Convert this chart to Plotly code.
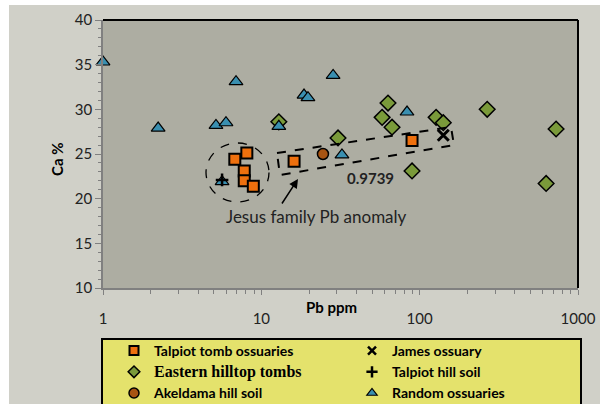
import plotly.graph_objects as go

# ---- data ----
talpiot_pb = [6.8, 8.1, 7.8, 7.8, 8.9, 16.1, 89.5]
talpiot_ca = [24.4, 25.1, 23.1, 22.0, 21.4, 24.2, 26.5]

james_pb = [141]
james_ca = [27.1]

eastern_pb = [12.9, 30.5, 63.1, 57.9, 66.9, 127, 141, 89.5, 267, 727, 629]
eastern_ca = [28.6, 26.8, 30.7, 29.1, 28.0, 29.1, 28.5, 23.1, 30.0, 27.8, 21.7]

hillsoil_pb = [5.65]
hillsoil_ca = [22.1]

akeldama_pb = [24.5]
akeldama_ca = [25.0]

random_pb = [1.0, 2.23, 5.17, 5.98, 6.92, 12.9, 5.65, 18.6, 19.7, 28.4, 32.3, 83.2]
random_ca = [35.3, 27.9, 28.2, 28.5, 33.1, 28.1, 21.9, 31.6, 31.3, 33.8, 24.9, 29.7]

x_major = [1, 10, 100, 1000]
x_minor = [2, 3, 4, 5, 6, 7, 8, 9, 20, 30, 40, 50, 60, 70, 80, 90,
           200, 300, 400, 500, 600, 700, 800, 900]
y_major = [10, 15, 20, 25, 30, 35, 40]

# ---- layout geometry (pixels) ----
W, H = 600, 404
L, R, T, B = 103, 578, 20, 288
pw, ph = R - L, B - T


def px(x):
    return (x - L) / pw


def py(y):
    return (B - y) / ph


OUTER = "rgb(208,208,200)"
PLOT = "rgb(173,173,162)"
YELLOW = "rgb(228,226,108)"
AXIS = "rgb(128,128,128)"

ORANGE = "rgb(238,112,14)"
GREEN = "rgb(122,154,58)"
TEAL = "rgb(58,143,176)"
BROWN = "rgb(168,84,18)"

series = [
    # name, x, y, symbol, size, fill, line width, legend rank, legend size
    ("Eastern hilltop tombs", eastern_pb, eastern_ca, "diamond", 12, GREEN, 1.5, 3, 9),
    ("Random ossuaries", random_pb, random_ca, "triangle-up", 12, TEAL, 1.2, 6, 9),
    ("Talpiot tomb ossuaries", talpiot_pb, talpiot_ca, "square", 11, ORANGE, 2, 1, 9),
    ("Akeldama hill soil", akeldama_pb, akeldama_ca, "circle", 11, BROWN, 1.5, 5, 10),
    ("James ossuary", james_pb, james_ca, "x-thin", 11, "black", 3, 2, 8),
    ("Talpiot hill soil", hillsoil_pb, hillsoil_ca, "cross-thin", 9, "black", 2.5, 4, 8),
]

fig = go.Figure()
for name, xs, ys, sym, size, col, lw, rank, lsize in series:
    fig.add_trace(go.Scatter(
        x=xs, y=ys, mode="markers", name=name, showlegend=False, cliponaxis=False,
        marker=dict(symbol=sym, size=size, color=col, line=dict(color="black", width=lw))))

# legend entries (smaller symbols as in the reference legend)
for name, xs, ys, sym, size, col, lw, rank, lsize in series:
    if name == "Eastern hilltop tombs":
        label = ('<span style="font-family:Liberation Serif;font-size:16px">'
                 '<b>' + name + '</b></span>')
    else:
        label = "<b>" + name + "</b>"
    fig.add_trace(go.Scatter(
        x=[None], y=[None], mode="markers", name=label, legendrank=rank, showlegend=True,
        marker=dict(symbol=sym, size=lsize, color=col,
                    line=dict(color="black", width=min(lw, 2.5)))))

shapes = [
    # white margins top / left
    dict(type="rect", xref="paper", yref="paper", x0=px(-5), x1=px(W + 5),
         y0=py(5), y1=py(-5), fillcolor="white", line_width=0, layer="below"),
    dict(type="rect", xref="paper", yref="paper", x0=px(-5), x1=px(9),
         y0=py(H + 5), y1=py(-5), fillcolor="white", line_width=0, layer="below"),
    # plot border (top & right in black)
    dict(type="line", xref="paper", yref="paper", x0=0, x1=1, y0=1, y1=1,
         line=dict(color="black", width=2)),
    dict(type="line", xref="paper", yref="paper", x0=1, x1=1, y0=0, y1=1,
         line=dict(color="black", width=2)),
    # legend box
    dict(type="rect", xref="paper", yref="paper", x0=px(102), x1=px(581),
         y0=py(H + 10), y1=py(339), fillcolor=YELLOW,
         line=dict(color="black", width=2)),
    # dashed circle
    dict(type="circle", xref="paper", yref="paper", x0=px(206), x1=px(269),
         y0=py(202), y1=py(143), line=dict(color="black", width=1.3, dash="dash")),
    # dashed rotated rectangle
    dict(type="path", xref="paper", yref="paper",
         path="M {:.4f},{:.4f} L {:.4f},{:.4f} L {:.4f},{:.4f} L {:.4f},{:.4f} Z".format(
             px(277), py(153), px(451), py(127), px(454), py(145), px(280), py(175)),
         line=dict(color="black", width=2, dash="dash")),
]

annotations = [
    dict(xref="paper", yref="paper", x=px(298), y=py(179), ax=-17, ay=26,
         text="", showarrow=True, arrowhead=2, arrowsize=1.2, arrowwidth=1.5,
         arrowcolor="black", standoff=0),
    dict(xref="paper", yref="paper", x=px(316), y=py(216), text="Jesus family Pb anomaly",
         xanchor="center", yanchor="middle",
         showarrow=False, font=dict(family="Lato", size=17, color="#222")),
    dict(xref="paper", yref="paper", x=px(370), y=py(178), text="<b>0.9739</b>",
         xanchor="center", yanchor="middle",
         showarrow=False, font=dict(family="Lato", size=15, color="#222")),
    dict(xref="paper", yref="paper", x=px(331), y=py(307), text="<b>Pb ppm</b>",
         xanchor="center", yanchor="middle",
         showarrow=False, font=dict(family="Lato", size=15, color="black")),
    dict(xref="paper", yref="paper", x=px(57), y=py(160), text="<b>Ca %</b>",
         xanchor="center", yanchor="middle",
         textangle=-90, showarrow=False, font=dict(family="Lato", size=15, color="black")),
]

fig.update_layout(
    width=W, height=H,
    margin=dict(l=L, r=W - R, t=T, b=H - B, pad=0, autoexpand=False),
    paper_bgcolor=OUTER, plot_bgcolor=PLOT,
    shapes=shapes, annotations=annotations,
    font=dict(family="Lato", size=15, color="#222"),
    showlegend=True,
    legend=dict(orientation="h", x=px(114), y=py(335), xanchor="left", yanchor="top",
                bgcolor="rgba(0,0,0,0)", borderwidth=0, entrywidth=193,
                entrywidthmode="pixels", traceorder="normal",
                font=dict(family="Lato", size=14, color="black"),
                itemclick=False, itemdoubleclick=False),
)

fig.update_xaxes(
    type="log", range=[0, 3], showgrid=False, zeroline=False, automargin=False,
    showline=True, linecolor=AXIS, linewidth=1.5,
    tickmode="array", tickvals=x_major, ticktext=[str(v) for v in x_major],
    ticks="outside", ticklen=5, tickcolor=AXIS, tickwidth=1,
    ticklabelstandoff=11,
    tickfont=dict(family="Lato", size=15, color="#222"),
    minor=dict(tickmode="array", tickvals=x_minor, ticks="outside", ticklen=4,
               tickcolor=AXIS, showgrid=False),
)
fig.update_yaxes(
    range=[10, 40], showgrid=False, zeroline=False, automargin=False,
    showline=True, linecolor=AXIS, linewidth=1.5,
    tickmode="array", tickvals=y_major,
    ticks="outside", ticklen=6, tickcolor=AXIS, tickwidth=1,
    tickfont=dict(family="Lato", size=15, color="#222"),
    minor=dict(dtick=1, ticks="outside", ticklen=3, tickcolor=AXIS, showgrid=False),
)

fig.write_html(
    "out.html",
    config={"displayModeBar": False},
    post_script="document.body.style.margin='0';document.body.style.padding='0';",
)
